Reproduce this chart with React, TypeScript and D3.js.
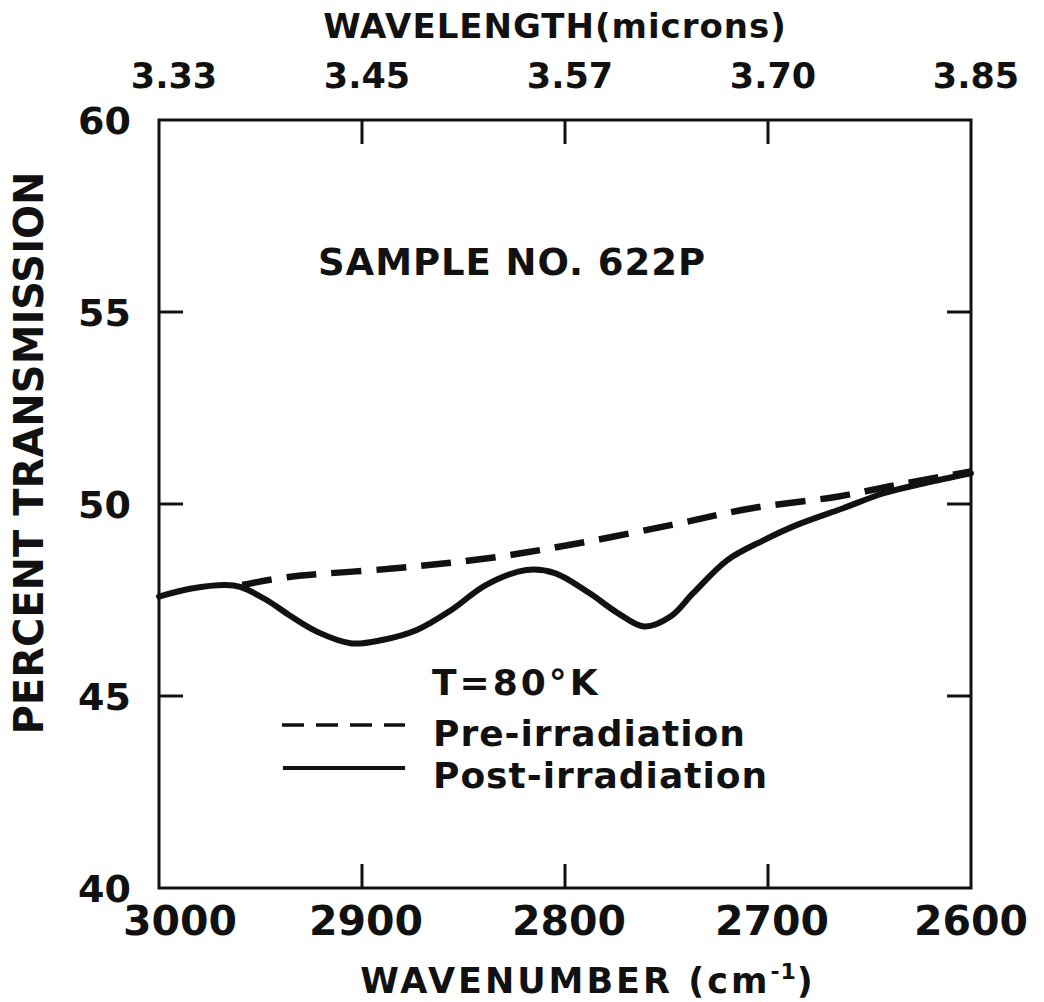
import React from "react";
import * as d3 from "d3";

// ---- data ----
const xTicks = [3000, 2900, 2800, 2700, 2600];
const xTickLabels = ["3000", "2900", "2800", "2700", "2600"];
const topTickLabels = ["3.33", "3.45", "3.57", "3.70", "3.85"];
const yTicks = [40, 45, 50, 55, 60];
const yTickLabels = ["40", "45", "50", "55", "60"];

const postWavenumber = [3000, 2984, 2967, 2960, 2947, 2936, 2922, 2905, 2890, 2873, 2856, 2839, 2819, 2805, 2788, 2774, 2761, 2748, 2737, 2720, 2702, 2686, 2663, 2643, 2623, 2600];
const postTransmission = [47.59, 47.8, 47.89, 47.84, 47.5, 47.11, 46.67, 46.37, 46.46, 46.72, 47.24, 47.89, 48.28, 48.2, 47.68, 47.16, 46.81, 47.07, 47.67, 48.54, 49.06, 49.45, 49.89, 50.28, 50.54, 50.8];

const preWavenumber = [2959, 2936, 2885, 2839, 2794, 2748, 2708, 2666, 2637, 2600];
const preTransmission = [47.89, 48.1, 48.32, 48.58, 48.97, 49.45, 49.89, 50.19, 50.49, 50.85];

const legendLabels = ["Pre-irradiation", "Post-irradiation"];

const W = 1044;
const H = 1002;
const FONT = "'DejaVu Sans', sans-serif";
const INK = "#111";

export default function App() {
  const left = 159, right = 971, top = 120, bottom = 888;
  const x = d3.scaleLinear().domain([3000, 2600]).range([left, right]);
  const y = d3.scaleLinear().domain([40, 60]).range([bottom, top]);

  const line = d3
    .line<[number, number]>()
    .x((d) => x(d[0]))
    .y((d) => y(d[1]))
    .curve(d3.curveCatmullRom.alpha(0.5));

  const post: [number, number][] = postWavenumber.map((w, i) => [w, postTransmission[i]]);
  const pre: [number, number][] = preWavenumber.map((w, i) => [w, preTransmission[i]]);

  const tickLen = 24;

  return (
    <svg
      width={W}
      height={H}
      viewBox={`0 0 ${W} ${H}`}
      style={{ position: "absolute", left: 0, top: 0, background: "#fff" }}
    >
      <rect x={0} y={0} width={W} height={H} fill="#fff" />

      {/* frame */}
      <rect x={left} y={top} width={right - left} height={bottom - top} fill="none" stroke={INK} strokeWidth={3} />

      {/* x ticks top & bottom */}
      {xTicks.slice(1, -1).map((t) => (
        <g key={"xt" + t}>
          <line x1={x(t)} x2={x(t)} y1={bottom} y2={bottom - tickLen} stroke={INK} strokeWidth={3} />
          <line x1={x(t)} x2={x(t)} y1={top} y2={top + tickLen} stroke={INK} strokeWidth={3} />
        </g>
      ))}
      {/* y ticks left & right */}
      {yTicks.slice(1, -1).map((t) => (
        <g key={"yt" + t}>
          <line x1={left} x2={left + tickLen} y1={y(t)} y2={y(t)} stroke={INK} strokeWidth={3} />
          <line x1={right} x2={right - tickLen} y1={y(t)} y2={y(t)} stroke={INK} strokeWidth={3} />
        </g>
      ))}

      {/* bottom tick labels */}
      {xTicks.map((t, i) => (
        <text
          key={"xl" + t}
          x={x(t) + (i === 0 ? 21 : i === xTicks.length - 1 ? 0 : 4)}
          y={935}
          textAnchor="middle"
          fontFamily={FONT}
          fontWeight="bold"
          fontSize={41}
          fill={INK}
        >
          {xTickLabels[i]}
        </text>
      ))}

      {/* top tick labels */}
      {xTicks.map((t, i) => (
        <text
          key={"tl" + t}
          x={x(t) + (i === 0 ? 15 : 5)}
          y={88}
          textAnchor="middle"
          fontFamily={FONT}
          fontWeight="bold"
          fontSize={35}
          fill={INK}
        >
          {topTickLabels[i]}
        </text>
      ))}

      {/* y tick labels */}
      {yTicks.map((t, i) => (
        <text
          key={"yl" + t}
          x={131}
          y={y(t) + 14}
          textAnchor="end"
          fontFamily={FONT}
          fontWeight="bold"
          fontSize={38}
          fill={INK}
        >
          {yTickLabels[i]}
        </text>
      ))}

      {/* axis titles */}
      <text x={555} y={38} textAnchor="middle" fontFamily={FONT} fontWeight="bold" fontSize={34} letterSpacing={1} fill={INK}>
        WAVELENGTH(microns)
      </text>
      <text x={588} y={993} textAnchor="middle" fontFamily={FONT} fontWeight="bold" fontSize={35} letterSpacing={3} fill={INK}>
        WAVENUMBER (cm
        <tspan fontSize={22} dy={-14} letterSpacing={1}>-1</tspan>
        <tspan dy={14}>)</tspan>
      </text>
      <text
        transform="translate(43,453) rotate(-90)"
        textAnchor="middle"
        fontFamily={FONT}
        fontWeight="bold"
        fontSize={40}
        fill={INK}
      >
        PERCENT TRANSMISSION
      </text>

      {/* annotation */}
      <text x={318} y={275} fontFamily={FONT} fontWeight="bold" fontSize={37} fill={INK} textLength={387} lengthAdjust="spacing">
        SAMPLE NO. 622P
      </text>

      {/* curves */}
      <path d={line(post) || ""} fill="none" stroke={INK} strokeWidth={6} strokeLinecap="round" strokeLinejoin="round" />
      <path d={line(pre) || ""} fill="none" stroke={INK} strokeWidth={6.5} strokeDasharray="30 15" />

      {/* legend */}
      <text x={432} y={695} fontFamily={FONT} fontWeight="bold" fontSize={36} letterSpacing={3} fill={INK}>
        T=80°K
      </text>
      <line x1={282} x2={405} y1={725} y2={725} stroke={INK} strokeWidth={3.5} strokeDasharray="22 12" />
      <text x={433} y={746} fontFamily={FONT} fontWeight="bold" fontSize={36} letterSpacing={1} fill={INK}>
        {legendLabels[0]}
      </text>
      <line x1={283} x2={405} y1={768} y2={768} stroke={INK} strokeWidth={4} />
      <text x={433} y={788} fontFamily={FONT} fontWeight="bold" fontSize={36} letterSpacing={1} fill={INK}>
        {legendLabels[1]}
      </text>
    </svg>
  );
}
